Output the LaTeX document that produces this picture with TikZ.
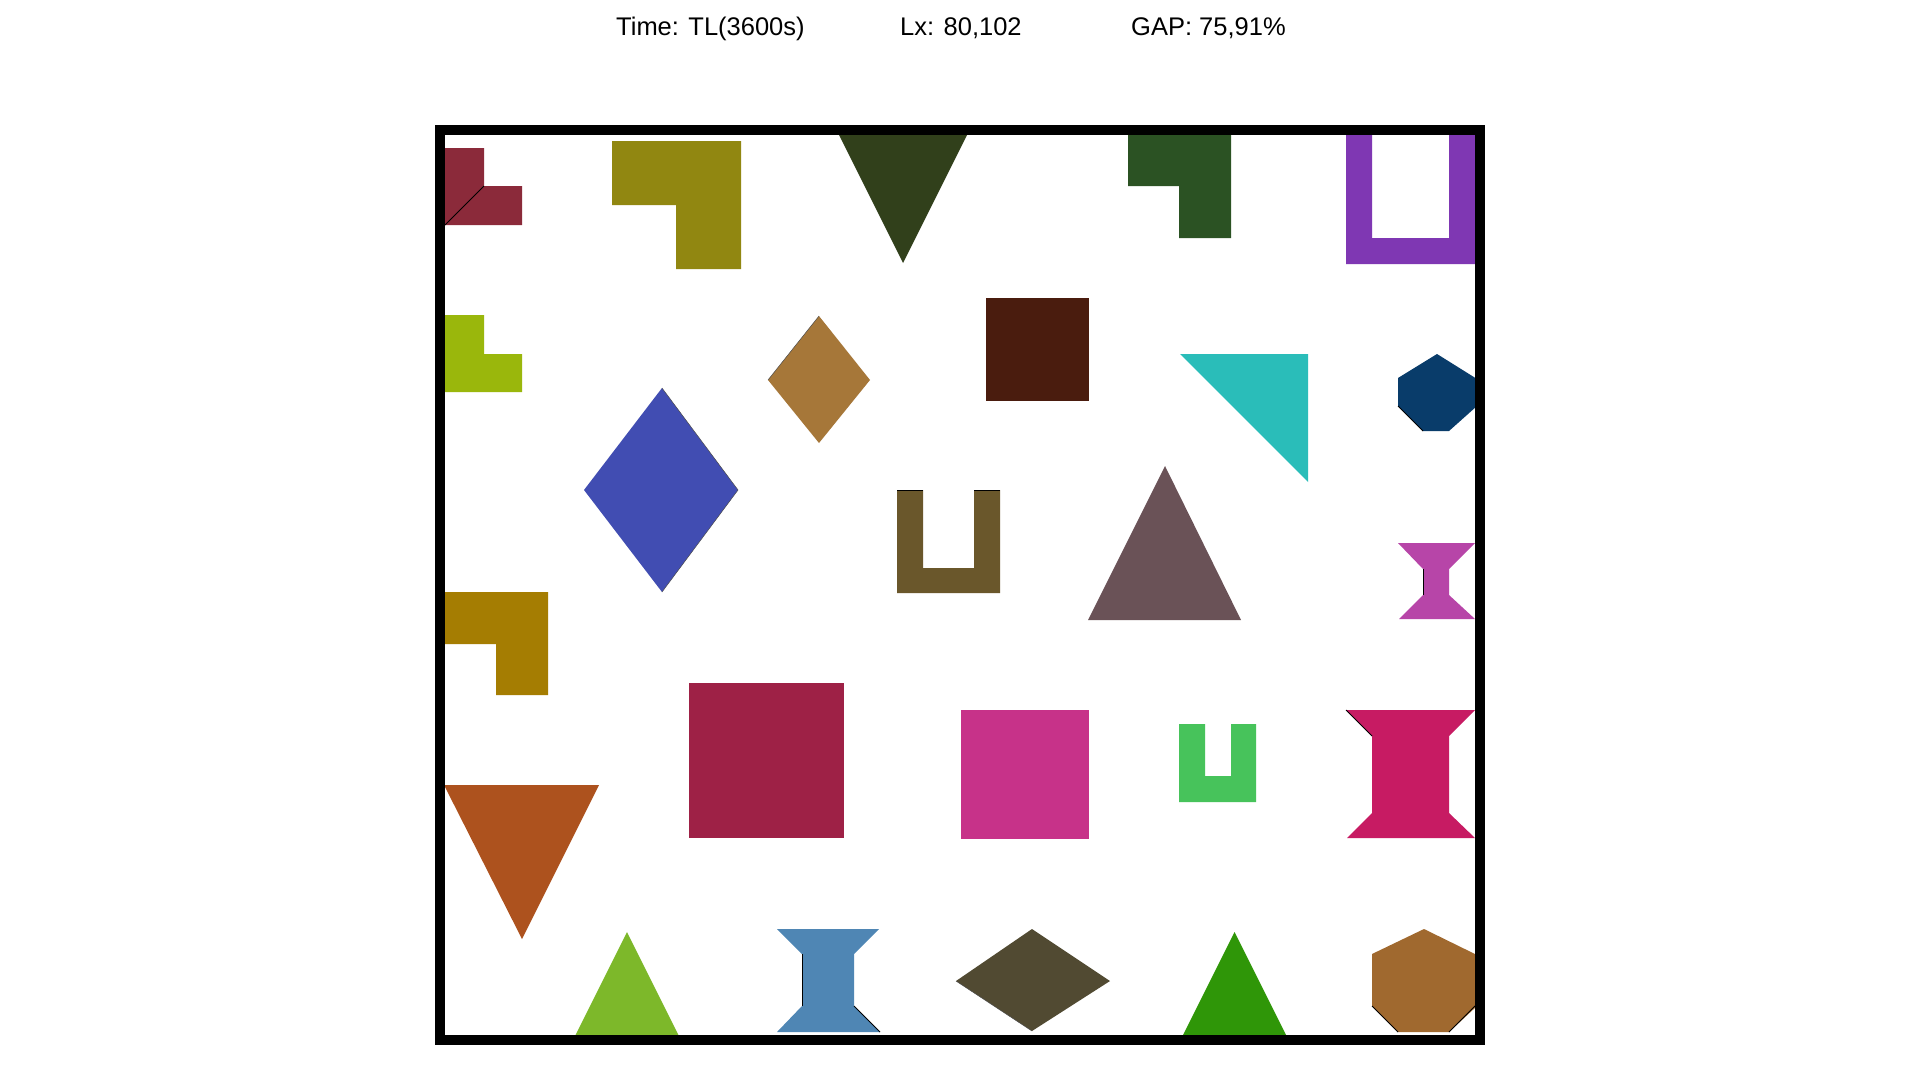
\documentclass[tikz,border=0pt]{standalone}
\usepackage{fontspec}
\setmainfont{Liberation Sans}
\definecolor{cMaroon}{HTML}{8B2A3A}
\definecolor{cOliveL}{HTML}{918711}
\definecolor{cDkGreenTri}{HTML}{31401B}
\definecolor{cDkBrownSq}{HTML}{4A1C0E}
\definecolor{cDkGreenL}{HTML}{2B5223}
\definecolor{cPurpleU}{HTML}{7F37B3}
\definecolor{cTeal}{HTML}{2ABDB9}
\definecolor{cNavyOct}{HTML}{093C6A}
\definecolor{cLimeL}{HTML}{9AB70C}
\definecolor{cTanDiamond}{HTML}{A67739}
\definecolor{cBlueDiamond}{HTML}{414DB2}
\definecolor{cOliveU}{HTML}{6A572B}
\definecolor{cMauveTri}{HTML}{6A5257}
\definecolor{cMagentaSpool}{HTML}{B745A8}
\definecolor{cCrimsonSpool}{HTML}{C71B63}
\definecolor{cGoldL}{HTML}{A57D02}
\definecolor{cRaspSq}{HTML}{9E2146}
\definecolor{cPinkSq}{HTML}{C73289}
\definecolor{cGreenU}{HTML}{47C35B}
\definecolor{cRustTri}{HTML}{AD521E}
\definecolor{cLightGreenTri}{HTML}{7DB82A}
\definecolor{cSteelSpool}{HTML}{4F86B4}
\definecolor{cDkOliveDiamond}{HTML}{514A32}
\definecolor{cGreenTri}{HTML}{2F9608}
\definecolor{cBrownHex}{HTML}{A0692F}
\begin{document}
\begin{tikzpicture}[x=1pt,y=-1pt,
  seam/.style={black,line width=0.9pt},
  faintseam/.style={black!70,line width=0.5pt},
  container/.style={black,line width=10pt},
  lbl/.style={anchor=base west,inner sep=0pt,font=\fontsize{25.5}{30}\selectfont}]
\useasboundingbox (0,0) rectangle (1920,1080);
\fill[white] (0,0) rectangle (1920,1080);

% row 1
\fill[cMaroon] (443,148) -- (484,148) -- (484,186) -- (522,186) -- (522,225) -- (443,225) -- cycle;
\draw[seam] (445,225) -- (484,186);
\fill[cOliveL] (612,141) -- (741,141) -- (741,269) -- (676,269) -- (676,205) -- (612,205) -- cycle;
\fill[cDkGreenTri] (838,133) -- (968,133) -- (903,263) -- cycle;
\fill[cDkGreenL] (1128,133) -- (1231,133) -- (1231,238) -- (1179,238) -- (1179,186) -- (1128,186) -- cycle;
\fill[cPurpleU] (1346,133) -- (1372,133) -- (1372,238) -- (1449,238) -- (1449,133) -- (1477,133) -- (1477,264) -- (1346,264) -- cycle;

% row 2
\fill[cLimeL] (443,315) -- (484,315) -- (484,354) -- (522,354) -- (522,392) -- (443,392) -- cycle;
\fill[cTanDiamond] (819,316) -- (870,380) -- (819,443) -- (768,380) -- cycle;
\draw[faintseam] (768,380) -- (819,316);
\fill[cDkBrownSq] (986,298) rectangle (1089,401);
\fill[cTeal] (1180,354) -- (1308,354) -- (1308,482) -- cycle;
\fill[cNavyOct] (1437,354) -- (1477,379) -- (1477,406) -- (1449,431) -- (1423,431) -- (1398,406) -- (1398,378) -- cycle;
\draw[seam] (1398,406) -- (1423,431);

% row 3
\fill[cBlueDiamond] (662,388) -- (738,490) -- (662,592) -- (584,490) -- cycle;
\draw[faintseam] (662,388) -- (738,490) -- (662,592);
\fill[cOliveU] (897,490) -- (923,490) -- (923,568) -- (974,568) -- (974,490) -- (1000,490) -- (1000,593) -- (897,593) -- cycle;
\draw[seam] (897,490) -- (923,490);
\draw[seam] (974,490) -- (1000,490);
\fill[cMauveTri] (1165,466) -- (1241,620) -- (1088,620) -- cycle;
\fill[cMagentaSpool] (1398,543) -- (1475,543) -- (1449,569) -- (1449,595) -- (1475,619) -- (1399,619) -- (1423,595) -- (1423,569) -- cycle;
\draw[seam] (1423,569) -- (1423,595);

% row 4
\fill[cGoldL] (443,592) -- (548,592) -- (548,695) -- (496,695) -- (496,644) -- (443,644) -- cycle;
\fill[cRaspSq] (689,683) rectangle (844,838);
\fill[cPinkSq] (961,710) rectangle (1089,839);
\fill[cGreenU] (1179,724) -- (1205,724) -- (1205,776) -- (1231,776) -- (1231,724) -- (1256,724) -- (1256,802) -- (1179,802) -- cycle;
\fill[cCrimsonSpool] (1346,710) -- (1475,710) -- (1449,736) -- (1449,813) -- (1475,838) -- (1347,838) -- (1372,813) -- (1372,736) -- cycle;
\draw[seam] (1346,710) -- (1372,736);

% row 5
\fill[cRustTri] (444,785) -- (599,785) -- (522,939) -- cycle;
\fill[cLightGreenTri] (627,932) -- (680,1038) -- (574,1038) -- cycle;
\fill[cSteelSpool] (777,929) -- (879,929) -- (854,954) -- (854,1006) -- (880,1032) -- (777,1032) -- (802,1006) -- (802,954) -- cycle;
\draw[seam] (802,954) -- (802,1006);
\draw[seam] (854,1006) -- (880,1032);
\fill[cDkOliveDiamond] (1032,929) -- (1110,981) -- (1032,1031) -- (956,981) -- cycle;
\draw[faintseam] (956,981) -- (1032,1031);
\fill[cGreenTri] (1234.5,932) -- (1287.5,1038) -- (1181.5,1038) -- cycle;
\fill[cBrownHex] (1424,929) -- (1477,955) -- (1477,1006) -- (1449,1032) -- (1398,1032) -- (1372,1006) -- (1372,954) -- cycle;
\draw[seam] (1372,1006) -- (1398,1032);
\draw[seam] (1449,1032) -- (1475,1006);

% header
\node[lbl] (time) at (616,35) {Time: TL(3600s)};
\node[lbl] (lx) at (900,35) {Lx: 80,102};
\node[lbl] (gap) at (1131,35) {GAP: 75,91\%};

% container
\draw[container] (440,130) rectangle (1480,1040);
\end{tikzpicture}
\end{document}
